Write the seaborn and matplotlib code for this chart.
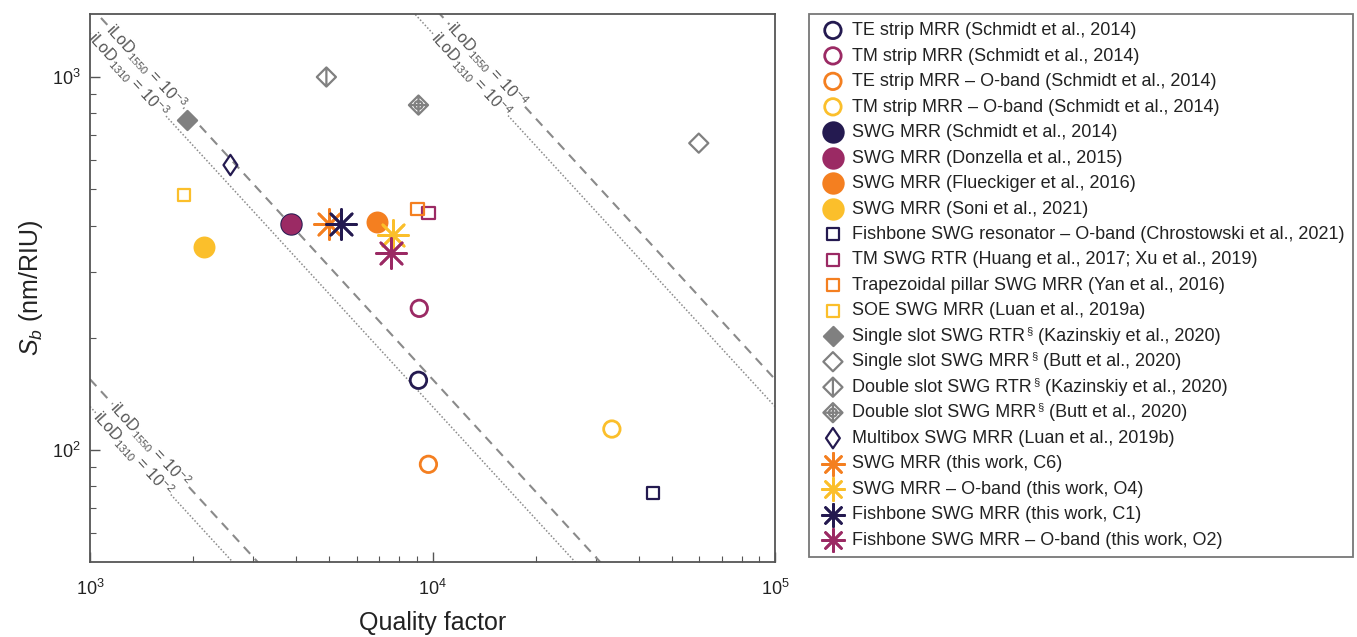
import numpy as np
import pandas as pd
import seaborn as sns
import matplotlib.pyplot as plt
from matplotlib.path import Path

sns.set_theme(style="ticks")
plt.rcParams['font.family'] = ['Liberation Sans', 'DejaVu Sans']
plt.rcParams['mathtext.fontset'] = 'custom'
plt.rcParams['mathtext.rm'] = 'Liberation Sans'
plt.rcParams['mathtext.it'] = 'Liberation Sans:italic'
plt.rcParams['mathtext.bf'] = 'Liberation Sans:bold'

# --- data ---
SEC = "§"
labels = [
    "TE strip MRR (Schmidt et al., 2014)",
    "TM strip MRR (Schmidt et al., 2014)",
    "TE strip MRR – O-band (Schmidt et al., 2014)",
    "TM strip MRR – O-band (Schmidt et al., 2014)",
    "SWG MRR (Schmidt et al., 2014)",
    "SWG MRR (Donzella et al., 2015)",
    "SWG MRR (Flueckiger et al., 2016)",
    "SWG MRR (Soni et al., 2021)",
    "Fishbone SWG resonator – O-band (Chrostowski et al., 2021)",
    "TM SWG RTR (Huang et al., 2017; Xu et al., 2019)",
    "Trapezoidal pillar SWG MRR (Yan et al., 2016)",
    "SOE SWG MRR (Luan et al., 2019a)",
    "Single slot SWG RTR§ (Kazinskiy et al., 2020)",
    "Single slot SWG MRR§ (Butt et al., 2020)",
    "Double slot SWG RTR§ (Kazinskiy et al., 2020)",
    "Double slot SWG MRR§ (Butt et al., 2020)",
    "Multibox SWG MRR (Luan et al., 2019b)",
    "SWG MRR (this work, C6)",
    "SWG MRR – O-band (this work, O4)",
    "Fishbone SWG MRR (this work, C1)",
    "Fishbone SWG MRR – O-band (this work, O2)",
]
q_factor = [9100, 9150, 9730, 33400, 3870, 3870, 6900, 2150, 44000, 9730, 9040,
            1880, 1920, 59900, 4900, 9100, 2570, 4970, 7690, 5420, 7590]
sens = [154, 240, 91.7, 114, 403, 403, 408, 350, 76.7, 432, 443,
        483, 767, 665, 1000, 841, 581, 403, 377, 403, 337]

wavelengths = [1550, 1310]
ilod_levels = [1e-2, 1e-3, 1e-4]
label_q = {(1550, 1e-2): 1497, (1310, 1e-2): 1336,
           (1550, 1e-3): 1458, (1310, 1e-3): 1292,
           (1550, 1e-4): 14390, (1310, 1e-4): 12920}

df = pd.DataFrame({"label": labels, "Q": q_factor, "S": sens})

# --- styles ---
NAVY = '#241a50'
MAGENTA = '#9b2a64'
ORANGE = '#f47f20'
YELLOW = '#fbbf2b'
GREY = '#808080'
TXT = '#222222'
LEG_FS = 13


def diamond(w=1.0, vline=False, cross=False):
    parts = [Path([(0, 1), (w, 0), (0, -1), (-w, 0), (0, 1)],
                  [Path.MOVETO, Path.LINETO, Path.LINETO, Path.LINETO, Path.CLOSEPOLY])]
    if vline or cross:
        parts.append(Path([(0, 0.8), (0, -0.8)], [Path.MOVETO, Path.LINETO]))
    if cross:
        parts.append(Path([(-0.8, 0), (0.8, 0)], [Path.MOVETO, Path.LINETO]))
        parts.append(Path.circle((0, 0), 0.42))
    return Path.make_compound_path(*parts)


AST = (8, 2, 0)
colors = [NAVY, MAGENTA, ORANGE, YELLOW, NAVY, MAGENTA, ORANGE, YELLOW,
          NAVY, MAGENTA, ORANGE, YELLOW, GREY, GREY, GREY, GREY, NAVY,
          ORANGE, YELLOW, NAVY, MAGENTA]
markers = ['o'] * 8 + ['s'] * 4 + [diamond(), diamond(), diamond(vline=True),
                                  diamond(cross=True), diamond(w=0.68)] + [AST] * 4
filled = [False] * 4 + [True] * 4 + [False] * 4 + [True, False, False, False, False] + [True] * 4
sizes = [140] * 4 + [260, 215, 250, 250] + [78] * 4 + [190] * 4 + [215] + [470] * 4
lws = [2.0] * 4 + [0] * 4 + [1.6] * 4 + [1.6] * 5 + [1.9] * 4

fig = plt.figure(figsize=(13.57, 6.37), dpi=100)
ax = fig.add_axes([90 / 1357, 1 - 562 / 637, (775 - 90) / 1357, (562 - 14) / 637])
ax.set_xscale('log')
ax.set_yscale('log')
ax.set_xlim(1e3, 1e5)
ax.set_ylim(50.2, 1475)

# iLoD reference lines: S = lambda / (Q * iLoD)
q_line = np.array([1e3, 1e5])
p1 = ax.transData.transform((1e3, 1e3))
p2 = ax.transData.transform((1e4, 1e2))
angle = np.degrees(np.arctan2(p2[1] - p1[1], p2[0] - p1[0]))
for lam in wavelengths:
    style = (0, (4.5, 3.3)) if lam == 1550 else (0, (1, 1.3))
    lw = 1.5 if lam == 1550 else 1.1
    for lv in ilod_levels:
        sns.lineplot(x=q_line, y=lam / (q_line * lv), ax=ax, color='#8a8a8a',
                     linestyle=style, lw=lw, zorder=1)
        ql = label_q[(lam, lv)]
        ax.text(ql, lam / (ql * lv),
                f"iLoD$_{{{lam}}}$ = 10$^{{{int(np.log10(lv))}}}$",
                rotation=angle, rotation_mode='anchor', ha='center', va='center',
                fontsize=11.5, color='#555555', zorder=2,
                bbox=dict(facecolor='white', edgecolor='none', pad=0.5))

for i, row in df.iterrows():
    c = colors[i]
    kw = dict(marker=markers[i], s=sizes[i], linewidth=lws[i], zorder=3 + i * 0.01,
              color=c, edgecolor=c)
    if not filled[i]:
        kw['facecolor'] = 'none'
    # labels with a section mark: legend gets the part before it, the rest is added later
    sns.scatterplot(x=[row.Q], y=[row.S], ax=ax,
                    label=row.label.split(SEC)[0], **kw)

for sp in ax.spines.values():
    sp.set_color('#555555')
    sp.set_linewidth(1.3)
ax.tick_params(which='both', direction='in', top=False, right=False,
               bottom=True, left=True, colors='#555555', labelcolor=TXT)
ax.tick_params(which='major', length=7, width=1.0, labelsize=13)
ax.tick_params(which='minor', length=4, width=0.8)
ax.tick_params(axis='x', which='major', pad=12)
ax.tick_params(axis='y', which='major', pad=7)
ax.set_xlabel("Quality factor", fontsize=18, color=TXT, labelpad=9)
ax.set_ylabel("$S_b$ (nm/RIU)", fontsize=18, color=TXT, labelpad=5)

leg = ax.legend(loc='upper left', bbox_to_anchor=(809 / 1357, 1 - 14 / 637),
                bbox_transform=fig.transFigure, fontsize=LEG_FS, frameon=True,
                fancybox=False, edgecolor='#555555', borderpad=0.45,
                labelspacing=0.47, handletextpad=0.2, borderaxespad=0,
                handlelength=1.75)
leg.get_frame().set_linewidth(1.3)
for t in leg.get_texts():
    t.set_color(TXT)
for h, m, sz in zip(leg.legend_handles, markers, sizes):
    if m == AST:
        h.set_sizes([260])
    elif m == 'o' and sz > 200:
        h.set_sizes([260])

# superscript section mark + rest of the label, appended after the legend text
fig.canvas.draw()
renderer = fig.canvas.get_renderer()
fs_px = LEG_FS * fig.dpi / 72
to_fig = fig.transFigure.inverted()
for txt, lab in zip(leg.get_texts(), labels):
    if SEC not in lab:
        continue
    rest = lab.split(SEC)[1]
    bb = txt.get_window_extent(renderer)
    fp = txt.get_fontproperties()
    _, _, d = renderer.get_text_width_height_descent("lp", fp, ismath=False)
    base = bb.y0 + d
    sec = fig.text(*to_fig.transform((bb.x1 + 1, base + 0.38 * fs_px)), SEC,
                   fontsize=LEG_FS * 0.62, color=TXT, ha='left', va='baseline')
    sb = sec.get_window_extent(renderer)
    fig.text(*to_fig.transform((sb.x1 + 0.5, base)), rest,
             fontsize=LEG_FS, color=TXT, ha='left', va='baseline')

fig.savefig("out.png", dpi=100)
